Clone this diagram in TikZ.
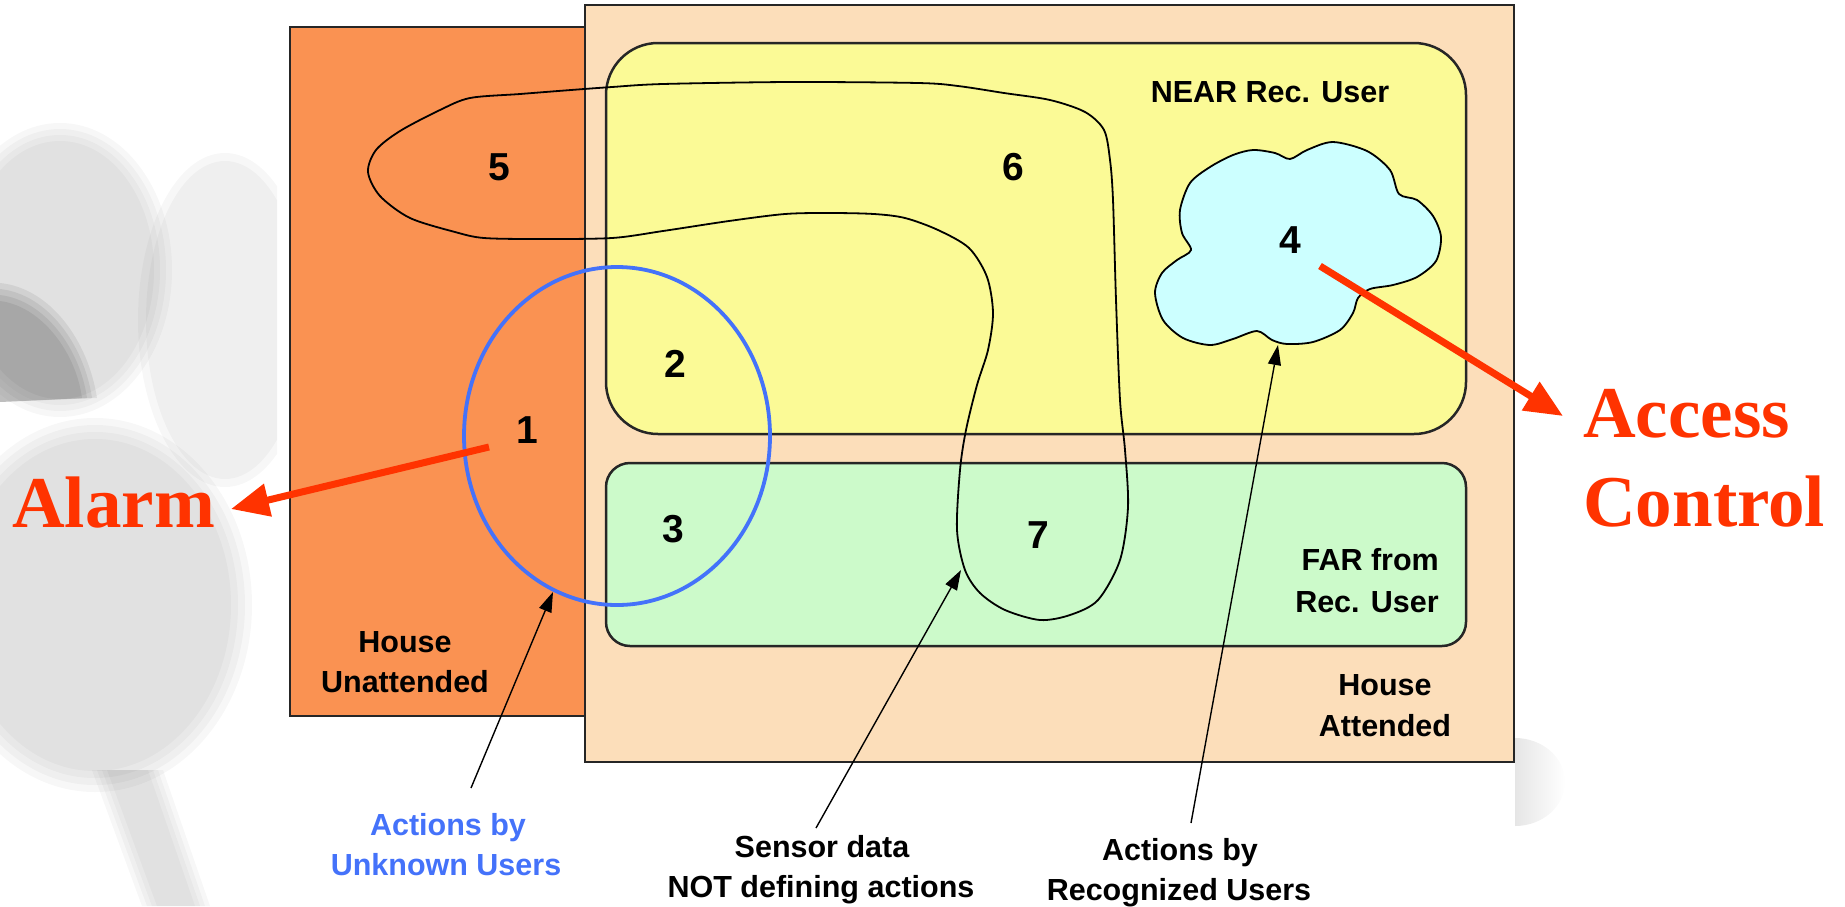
\documentclass[tikz,border=0pt]{standalone}
\usepackage{fontspec}
\setmainfont{Liberation Sans}
\newfontfamily\redfont{Liberation Serif}
\usetikzlibrary{arrows.meta}
\definecolor{peach}{HTML}{FCDEBA}
\definecolor{orangec}{HTML}{FA9252}
\definecolor{yellowc}{HTML}{FBFA96}
\definecolor{greenc}{HTML}{CCFACA}
\definecolor{cyanc}{HTML}{CCFFFF}
\definecolor{bluec}{HTML}{4472FA}
\definecolor{redc}{HTML}{FF3300}
\begin{document}
\begin{tikzpicture}[x=1pt,y=-1pt,
  lbl/.style={font=\fontsize{30.5}{40.5}\selectfont\bfseries, inner sep=0pt, anchor=base},
  num/.style={font=\fontsize{39}{40}\selectfont\bfseries, inner sep=0pt, anchor=base},
  big/.style={font=\redfont\fontsize{73}{90}\selectfont\bfseries, text=redc, inner sep=0pt, anchor=base west},
  ptr/.style={-{Triangle[length=20pt,width=13pt]}, line width=1.4pt},
  redarrow/.style={-{Triangle[length=38pt,width=32pt]}, line width=7pt, draw=redc},
  box/.style={draw=black!85, line width=2.5pt},
  curve/.style={draw=black, line width=1.8pt},
  wm/.style={fill=black, opacity=0.032},
]
\useasboundingbox (0,0) rectangle (1845,906);
% faint watermark (soft-edged grey blobs)
\foreach \i in {0,1,2,3} {
  \fill[wm] (60,270) ellipse [x radius={112-6*\i}, y radius={147-6*\i}];
  \fill[wm] (95,605) ellipse [x radius={157-7*\i}, y radius={187-7*\i}];
  \fill[wm] ({92+5*\i},770) -- ({163-5*\i},770) -- ({210-5*\i},906) -- ({142+5*\i},906) -- cycle;
}
\begin{scope}
  \clip (0,0) rectangle (277,906);
  \foreach \i in {0,1} {
    \fill[wm] (225,320) ellipse [x radius={87-8*\i}, y radius={167-8*\i}];
  }
\end{scope}
\foreach \i in {0,1,2,3} {
  \fill[black, opacity=0.07] (0,{283+6*\i}) .. controls ({50-3*\i},{288+6*\i}) and ({88-4*\i},{340+4*\i}) .. ({97-5*\i},398) -- (0,402) -- cycle;
}
\begin{scope}
  \clip (1515,700) rectangle (1600,850);
  \shade[left color=black!20, right color=white] (1515,782) ellipse [x radius=50, y radius=44];
\end{scope}
% regions
\draw[box, fill=orangec] (290,27) rectangle (585,716);
\draw[box, fill=peach] (585,5) rectangle (1514,762);
\draw[box, fill=yellowc, rounded corners=52pt] (606,43) rectangle (1466,434);
\draw[box, fill=greenc, rounded corners=24pt] (606,463) rectangle (1466,646);
% cloud
\draw[curve, fill=cyanc] plot[smooth cycle, tension=0.5] coordinates {
 (1253,150) (1275,153) (1290,159) (1307,150) (1333,142) (1367,151) (1390,170) (1399,194)
 (1417,200) (1433,216) (1441,237) (1436,261) (1417,277) (1393,285) (1370,289)
 (1358,298) (1353,313) (1340,330) (1313,342) (1287,344) (1272,340) (1257,331)
 (1233,339) (1210,345) (1183,338) (1163,320) (1155,293) (1162,273) (1177,260) (1191,250)
 (1182,233) (1180,210) (1190,183) (1210,167) (1233,155)};
% big loop (5,6,7)
\draw[curve] plot[smooth cycle, tension=0.5] coordinates {
 (368,172) (376,150) (400,131) (440,110) (470,98) (520,94) (571,90) (612,87) (663,84)
 (790,82) (918,83) (958,86) (1004,93) (1050,100) (1085,112) (1104,130) (1110,160)
 (1113,200) (1116,300) (1120,400) (1125,450) (1128,507) (1120,560) (1098,600)
 (1070,615) (1040,620) (1005,610) (980,593) (965,570) (957,530) (960,470) (966,430)
 (977,385) (988,350) (993,313) (987,277) (969,248) (938,230) (905,218) (874,214)
 (830,213) (785,214) (729,221) (663,231) (612,238) (540,239) (484,238) (455,232)
 (410,218) (380,196)};
% blue ellipse
\draw[draw=bluec, line width=3.8pt] (617,436) ellipse [x radius=153, y radius=169];
% numbers
\node[num] (n1) at (527,443) {1};
\node[num] (n2) at (675,377) {2};
\node[num] (n3) at (673,542) {3};
\node[num] (n4) at (1290,253) {4};
\node[num] (n5) at (499,180) {5};
\node[num] (n6) at (1013,180) {6};
\node[num] (n7) at (1038,548) {7};
% labels
\node[lbl] (near) at (1270,102) {NEAR Rec. User};
\node[lbl, anchor=base east] (far1) at (1439,570) {FAR from};
\node[lbl, anchor=base east] (far2) at (1439,612) {Rec. User};
\node[lbl] (hu1) at (405,652) {House};
\node[lbl] (hu2) at (405,692) {Unattended};
\node[lbl] (ha1) at (1385,695) {House};
\node[lbl] (ha2) at (1385,736) {Attended};
\node[lbl, text=bluec] (uu1) at (448,835) {Actions by};
\node[lbl, text=bluec] (uu2) at (446,875) {Unknown Users};
\node[lbl] (sd1) at (822,857) {Sensor data};
\node[lbl] (sd2) at (821,897) {NOT defining actions};
\node[lbl] (ru1) at (1180,860) {Actions by};
\node[lbl] (ru2) at (1179,900) {Recognized Users};
\node[big] (alarm) at (12,527) {Alarm};
\node[big] (acc1) at (1583,437) {Access};
\node[big] (acc2) at (1583,526) {Control};
% pointer arrows
\coordinate (uutail) at (471,788);
\coordinate (uutip) at (553,592);
\coordinate (sdtail) at (816,828);
\coordinate (sdtip) at (961,570);
\coordinate (rutail) at (1191,823);
\coordinate (rutip) at (1278,345);
\draw[ptr] (uutail) -- (uutip);
\draw[ptr] (sdtail) -- (sdtip);
\draw[ptr] (rutail) -- (rutip);
% red arrows
\coordinate (alstart) at (489,447);
\coordinate (altip) at (231,509);
\coordinate (acstart) at (1320,266);
\coordinate (actip) at (1563,416);
\draw[redarrow] (alstart) -- (altip);
\draw[redarrow] (acstart) -- (actip);
\end{tikzpicture}
\end{document}
